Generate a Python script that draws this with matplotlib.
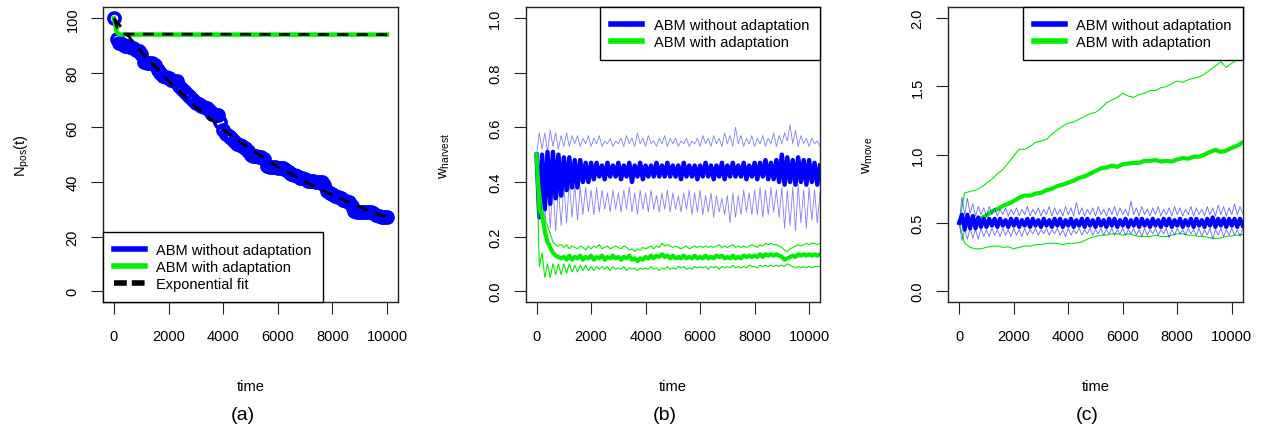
import numpy as np
import matplotlib
matplotlib.use("Agg")
import matplotlib.pyplot as plt
from matplotlib.lines import Line2D

plt.rcParams['font.family'] = ['Liberation Sans', 'DejaVu Sans']
plt.rcParams['mathtext.fontset'] = 'custom'
plt.rcParams['mathtext.rm'] = 'Liberation Sans'
plt.rcParams['mathtext.it'] = 'Liberation Sans:italic'

BLUE = '#0000FF'
GREEN = '#00EE00'

# ---------------- data ----------------
# panel (a): number of positive agents
t_a = np.arange(0, 10001, 100)
npos_no_adapt = [100, 92.5, 91, 90.5, 90, 90, 89.5, 89, 88.5, 88,
                 87, 84, 83.5, 83.5, 83.5, 83, 81, 80, 79, 78.5,
                 78, 77.5, 77, 77, 75, 74, 73, 72, 71, 70,
                 69, 68.5, 68, 67.5, 67, 66, 65, 64.5, 64.5, 62,
                 59, 57.5, 57, 56, 55, 54, 53.5, 53, 52.5, 51.5,
                 50, 49.5, 49.5, 49, 49, 48.5, 46, 45.5, 45.5, 45.5,
                 45, 45, 45, 44.5, 43.5, 43, 42.5, 42, 41.5, 41.5,
                 41, 40.5, 40.5, 40.5, 40, 40, 40, 39, 36.5, 36,
                 35.5, 35, 34.5, 34, 33.5, 33, 32.5, 31, 29.5, 29,
                 29, 29, 29, 29, 29, 28.5, 28, 27.5, 27, 27,
                 27]
t_a_adapt = [0, 100, 200, 10000]
npos_adapt = [100, 95, 94, 94]
t_fit = [0, 1000, 2000, 3000, 4000, 5000, 6000, 7000, 8000, 9000, 10000]
fit_no_adapt = [100, 87.7, 77.0, 67.5, 59.2, 52.0, 45.6, 40.0, 35.1, 30.8, 27.0]
t_fit_adapt = [0, 100, 200, 300, 10000]
fit_adapt = [100, 97, 95, 94.2, 94]

# panel (b): w_harvest (mean and spread bands), sampled every 100 steps
t_b = np.arange(0, 10401, 100)
wh_no_mean = [0.50, 0.27, 0.50, 0.30, 0.51, 0.32, 0.51, 0.34, 0.50, 0.35,
              0.49, 0.37, 0.49, 0.38, 0.48, 0.38, 0.48, 0.40, 0.47, 0.40,
              0.47,
              0.41, 0.47, 0.42, 0.46, 0.41, 0.47, 0.42, 0.46, 0.42, 0.47,
              0.41, 0.46, 0.42, 0.47, 0.40, 0.46, 0.42, 0.47, 0.41, 0.46,
              0.42, 0.46, 0.42, 0.47, 0.42, 0.46, 0.42, 0.47, 0.42, 0.46,
              0.42, 0.46, 0.41, 0.47, 0.42, 0.46, 0.42, 0.46, 0.41, 0.46,
              0.42, 0.47, 0.42, 0.46, 0.41, 0.46, 0.42, 0.47, 0.41, 0.46,
              0.42, 0.47, 0.42, 0.46, 0.42, 0.47, 0.41, 0.46, 0.42, 0.47,
              0.41, 0.47, 0.42, 0.48, 0.41, 0.47, 0.41, 0.48, 0.40,
              0.50, 0.39, 0.49, 0.40, 0.48, 0.39, 0.49, 0.40, 0.48, 0.39,
              0.48, 0.40, 0.47, 0.39, 0.46]
wh_no_hi = [0.50, 0.58, 0.52, 0.58, 0.51, 0.59, 0.53, 0.58, 0.52, 0.57,
            0.53, 0.58, 0.53, 0.57, 0.54, 0.57, 0.53, 0.56, 0.54, 0.57,
            0.53, 0.56, 0.54, 0.57, 0.53, 0.55, 0.54, 0.56, 0.53, 0.55,
            0.54, 0.56, 0.53, 0.57, 0.54, 0.56, 0.53, 0.58, 0.54, 0.56,
            0.53, 0.57, 0.54, 0.55, 0.53, 0.56, 0.54, 0.57, 0.53, 0.56,
            0.54, 0.56, 0.53, 0.55, 0.54, 0.56, 0.53, 0.55, 0.54, 0.56,
            0.53, 0.57, 0.54, 0.56, 0.53, 0.57, 0.54, 0.56, 0.53, 0.58,
            0.54, 0.57, 0.53, 0.60, 0.54, 0.57, 0.53, 0.56, 0.54, 0.57,
            0.53, 0.56, 0.54, 0.57, 0.53, 0.56, 0.54, 0.58, 0.53, 0.57,
            0.54, 0.58, 0.55, 0.61, 0.54, 0.59, 0.53, 0.57, 0.54, 0.56,
            0.53, 0.56, 0.54, 0.55, 0.53]
wh_no_lo = [0.46, 0.30, 0.42, 0.24, 0.40, 0.23, 0.39, 0.22, 0.38, 0.24,
            0.39, 0.25, 0.40, 0.27, 0.39, 0.26, 0.38, 0.28, 0.38, 0.29,
            0.37, 0.28, 0.38, 0.29, 0.37, 0.30, 0.36, 0.29, 0.37, 0.30,
            0.36, 0.29, 0.37, 0.30, 0.38, 0.29, 0.36, 0.28, 0.37, 0.30,
            0.36, 0.29, 0.37, 0.30, 0.35, 0.29, 0.36, 0.30, 0.37, 0.29,
            0.36, 0.30, 0.35, 0.29, 0.36, 0.30, 0.37, 0.28, 0.36, 0.29,
            0.37, 0.28, 0.35, 0.29, 0.36, 0.27, 0.35, 0.29, 0.34, 0.28,
            0.35, 0.25, 0.36, 0.27, 0.35, 0.28, 0.37, 0.29, 0.36, 0.28,
            0.37, 0.28, 0.38, 0.27, 0.37, 0.28, 0.38, 0.29, 0.37, 0.27,
            0.38, 0.23, 0.37, 0.24, 0.38, 0.22, 0.39, 0.25, 0.37, 0.23,
            0.38, 0.26, 0.37, 0.25, 0.36]
wh_ad_mean = [0.50, 0.30, 0.28, 0.22, 0.18, 0.16, 0.14, 0.13, 0.125, 0.12,
              0.125, 0.115, 0.13, 0.115, 0.125, 0.12, 0.13, 0.115, 0.125, 0.12,
              0.13, 0.115, 0.125, 0.12, 0.13, 0.115, 0.125, 0.12, 0.13, 0.12,
              0.125, 0.115, 0.125, 0.12, 0.13, 0.115, 0.12, 0.11, 0.12, 0.115,
              0.125, 0.12, 0.13, 0.12, 0.13, 0.125, 0.135, 0.125, 0.13, 0.12,
              0.13, 0.12, 0.125, 0.12, 0.13, 0.12, 0.125, 0.12, 0.13, 0.12,
              0.125, 0.12, 0.13, 0.12, 0.125, 0.12, 0.13, 0.125, 0.13, 0.12,
              0.125, 0.12, 0.13, 0.12, 0.125, 0.12, 0.13, 0.125, 0.13, 0.125,
              0.13, 0.125, 0.135, 0.125, 0.135, 0.13, 0.135, 0.13, 0.135, 0.13,
              0.125, 0.115, 0.12, 0.125, 0.13, 0.125, 0.135, 0.13, 0.135, 0.13,
              0.135, 0.13, 0.135, 0.13, 0.135]
wh_ad_hi = [0.50, 0.40, 0.31, 0.26, 0.24, 0.21, 0.18, 0.17, 0.165, 0.17,
            0.16, 0.17, 0.155, 0.165, 0.16, 0.155, 0.165, 0.16, 0.15, 0.165,
            0.155, 0.165, 0.16, 0.17, 0.155, 0.16, 0.165, 0.155, 0.16, 0.165,
            0.16, 0.155, 0.165, 0.16, 0.15, 0.155, 0.145, 0.155, 0.15, 0.16,
            0.155, 0.16, 0.165, 0.155, 0.165, 0.16, 0.175, 0.165, 0.17, 0.165,
            0.16, 0.165, 0.16, 0.155, 0.16, 0.165, 0.155, 0.16, 0.165, 0.16,
            0.165, 0.16, 0.165, 0.16, 0.165, 0.16, 0.165, 0.17, 0.16, 0.165,
            0.16, 0.165, 0.17, 0.16, 0.165, 0.16, 0.165, 0.16, 0.165, 0.17,
            0.165, 0.16, 0.17, 0.165, 0.175, 0.17, 0.175, 0.17, 0.17, 0.165,
            0.16, 0.15, 0.145, 0.155, 0.16, 0.165, 0.17, 0.165, 0.17, 0.175,
            0.17, 0.175, 0.175, 0.17, 0.175]
wh_ad_lo = [0.50, 0.09, 0.14, 0.05, 0.10, 0.05, 0.10, 0.06, 0.10, 0.06,
            0.10, 0.065, 0.10, 0.07, 0.095, 0.07, 0.095, 0.075, 0.095, 0.075,
            0.09, 0.075, 0.09, 0.08, 0.09, 0.08, 0.09, 0.075, 0.09, 0.08,
            0.085, 0.08, 0.09, 0.075, 0.085, 0.08, 0.085, 0.075, 0.085, 0.08,
            0.085, 0.08, 0.09, 0.08, 0.085, 0.075, 0.085, 0.08, 0.09, 0.08,
            0.085, 0.08, 0.09, 0.085, 0.09, 0.08, 0.085, 0.08, 0.09, 0.085,
            0.09, 0.085, 0.09, 0.08, 0.09, 0.085, 0.09, 0.08, 0.09, 0.085,
            0.09, 0.085, 0.095, 0.085, 0.09, 0.085, 0.09, 0.085, 0.095, 0.09,
            0.09, 0.085, 0.095, 0.09, 0.095, 0.09, 0.095, 0.09, 0.095, 0.09,
            0.095, 0.09, 0.10, 0.095, 0.09, 0.085, 0.09, 0.085, 0.09, 0.085,
            0.09, 0.085, 0.09, 0.09, 0.09]

# panel (c): w_move
t_c = np.arange(0, 10401, 100)
wm_no_mean = [0.50, 0.56, 0.45, 0.56, 0.46, 0.55, 0.46, 0.54, 0.47, 0.53,
              0.47, 0.53, 0.48, 0.53, 0.47, 0.53, 0.48, 0.52, 0.47, 0.53,
              0.48, 0.53, 0.47, 0.52, 0.48, 0.53, 0.47, 0.53, 0.48, 0.52,
              0.47, 0.53, 0.48, 0.52, 0.47, 0.53, 0.48, 0.53, 0.47, 0.52,
              0.48, 0.53, 0.47, 0.52, 0.48, 0.53, 0.47, 0.53, 0.48, 0.52,
              0.47, 0.53, 0.48, 0.52, 0.47, 0.53, 0.48, 0.53, 0.47, 0.52,
              0.48, 0.53, 0.47, 0.52, 0.48, 0.53, 0.47, 0.53, 0.48, 0.52,
              0.47, 0.53, 0.48, 0.52, 0.47, 0.53, 0.48, 0.53, 0.47, 0.52,
              0.48, 0.53, 0.47, 0.52, 0.48, 0.53, 0.47, 0.53, 0.48, 0.52,
              0.47, 0.53, 0.48, 0.54, 0.47, 0.53, 0.48, 0.53, 0.47, 0.53,
              0.48, 0.53, 0.47, 0.53, 0.48]
wm_no_hi = [0.50, 0.69, 0.56, 0.68, 0.57, 0.64, 0.55, 0.62, 0.56, 0.61,
            0.55, 0.62, 0.56, 0.61, 0.55, 0.60, 0.56, 0.61, 0.55, 0.60,
            0.56, 0.61, 0.55, 0.60, 0.56, 0.62, 0.55, 0.60, 0.56, 0.61,
            0.55, 0.60, 0.56, 0.62, 0.55, 0.61, 0.56, 0.60, 0.55, 0.62,
            0.56, 0.61, 0.55, 0.65, 0.56, 0.61, 0.55, 0.60, 0.56, 0.61,
            0.55, 0.62, 0.56, 0.60, 0.55, 0.61, 0.56, 0.62, 0.55, 0.61,
            0.56, 0.60, 0.55, 0.66, 0.56, 0.61, 0.55, 0.62, 0.56, 0.60,
            0.55, 0.61, 0.56, 0.62, 0.55, 0.60, 0.56, 0.61, 0.55, 0.62,
            0.56, 0.61, 0.55, 0.60, 0.56, 0.62, 0.55, 0.61, 0.56, 0.60,
            0.55, 0.62, 0.56, 0.61, 0.55, 0.63, 0.56, 0.62, 0.55, 0.61,
            0.56, 0.64, 0.56, 0.62, 0.57]
wm_no_lo = [0.50, 0.37, 0.45, 0.38, 0.46, 0.39, 0.45, 0.38, 0.46, 0.40,
            0.45, 0.40, 0.46, 0.41, 0.45, 0.40, 0.46, 0.41, 0.45, 0.40,
            0.46, 0.41, 0.45, 0.40, 0.46, 0.41, 0.45, 0.42, 0.46, 0.41,
            0.45, 0.42, 0.46, 0.41, 0.45, 0.42, 0.46, 0.41, 0.45, 0.40,
            0.46, 0.41, 0.45, 0.42, 0.46, 0.41, 0.45, 0.42, 0.46, 0.41,
            0.45, 0.42, 0.46, 0.41, 0.45, 0.42, 0.46, 0.41, 0.45, 0.42,
            0.46, 0.41, 0.45, 0.42, 0.46, 0.41, 0.45, 0.40, 0.46, 0.41,
            0.45, 0.42, 0.46, 0.41, 0.45, 0.42, 0.46, 0.39, 0.45, 0.41,
            0.46, 0.42, 0.45, 0.41, 0.46, 0.42, 0.45, 0.41, 0.46, 0.40,
            0.45, 0.41, 0.46, 0.38, 0.45, 0.41, 0.46, 0.40, 0.45, 0.41,
            0.46, 0.41, 0.45, 0.40, 0.46]
t_c2 = np.arange(0, 10401, 200)
wm_ad_mean = [0.50, 0.50, 0.51, 0.52, 0.53, 0.555, 0.585, 0.60, 0.625, 0.64,
              0.66, 0.685, 0.70, 0.70, 0.715, 0.72, 0.74, 0.75, 0.77, 0.78,
              0.795, 0.81, 0.83, 0.84, 0.86, 0.88, 0.90, 0.905, 0.92, 0.91,
              0.93, 0.935, 0.94, 0.94, 0.955, 0.955, 0.96, 0.95, 0.955, 0.95,
              0.965, 0.975, 0.97, 0.985, 0.985, 1.00, 1.02, 1.035, 1.02, 1.03,
              1.05, 1.065, 1.09]
wm_ad_hi = [0.50, 0.72, 0.73, 0.74, 0.76, 0.79, 0.82, 0.86, 0.89, 0.94,
            0.99, 1.04, 1.04, 1.06, 1.09, 1.10, 1.11, 1.15, 1.18, 1.21,
            1.23, 1.24, 1.26, 1.28, 1.30, 1.31, 1.34, 1.38, 1.40, 1.42,
            1.45, 1.43, 1.42, 1.44, 1.45, 1.47, 1.47, 1.49, 1.50, 1.52,
            1.54, 1.53, 1.55, 1.56, 1.57, 1.59, 1.62, 1.65, 1.68, 1.64,
            1.67, 1.70, 1.73]
wm_ad_lo = [0.50, 0.35, 0.32, 0.31, 0.31, 0.32, 0.33, 0.33, 0.32, 0.325,
            0.31, 0.32, 0.33, 0.33, 0.34, 0.34, 0.35, 0.35, 0.35, 0.34,
            0.35, 0.35, 0.355, 0.37, 0.39, 0.40, 0.41, 0.41, 0.42, 0.42,
            0.41, 0.42, 0.41, 0.40, 0.40, 0.40, 0.41, 0.40, 0.40, 0.41,
            0.42, 0.42, 0.41, 0.41, 0.40, 0.40, 0.39, 0.385, 0.39, 0.40,
            0.405, 0.41, 0.415]

x_ticks = [0, 2000, 4000, 6000, 8000, 10000]
ya_ticks = [0, 20, 40, 60, 80, 100]
yb_ticks = [0.0, 0.2, 0.4, 0.6, 0.8, 1.0]
yc_ticks = [0.0, 0.5, 1.0, 1.5, 2.0]
lab_no = 'ABM without adaptation'
lab_ad = 'ABM with adaptation'

# ---------------- figure ----------------
W, H = 1269, 427
fig = plt.figure(figsize=(W / 100, H / 100), dpi=100)
FS = 10.5

def make_ax(left_px, right_px):
    top_px, bot_px = 8.3, 303
    return fig.add_axes([left_px / W, 1 - bot_px / H, (right_px - left_px) / W,
                         (bot_px - top_px) / H])

def style(ax, ylim, yticks, ylabel, ylabfmt):
    ax.set_xlim(-400, 10400)
    ax.set_ylim(*ylim)
    ax.set_xticks(x_ticks)
    ax.set_xticklabels([str(v) for v in x_ticks])
    ax.set_yticks(yticks)
    ax.set_yticklabels([ylabfmt.format(v) for v in yticks])
    ax.tick_params(axis='both', length=8.5, width=0.8, labelsize=FS, color='#222222')
    ax.tick_params(axis='x', pad=11)
    ax.tick_params(axis='y', pad=8.5)
    plt.setp(ax.get_yticklabels(), rotation=90, va='center')
    for s in ax.spines.values():
        s.set_linewidth(1.0)
        s.set_color('#222222')
    ax.set_xlabel('time', fontsize=FS, va='center')
    ax.xaxis.set_label_coords(0.5, -84 / 294.7)
    ax.set_ylabel(ylabel, fontsize=FS, va='center')
    ax.yaxis.set_label_coords(-81 / 295, 0.5)

def legend(ax, handles, labels, loc):
    leg = ax.legend(handles, labels, loc=loc, borderaxespad=0, fontsize=FS,
                    fancybox=False, edgecolor='black', framealpha=1,
                    handlelength=2.1, handletextpad=0.8, borderpad=0.75,
                    labelspacing=0.2)
    leg.get_frame().set_linewidth(1.0)
    return leg

# (a)
ax1 = make_ax(103, 398)
ax1.plot(t_a, npos_no_adapt, linestyle='none', marker='o', ms=8, mfc='none',
         mec=BLUE, mew=2.6, zorder=2)
ax1.plot(t_a_adapt, npos_adapt, color=GREEN, lw=3.2, zorder=3)
ax1.plot(t_fit, fit_no_adapt, color='black', lw=2.0, linestyle=(0, (4, 3)), zorder=4)
ax1.plot(t_fit_adapt, fit_adapt, color='black', lw=2.0, linestyle=(0, (4, 3)), zorder=4)
style(ax1, (-4, 104), ya_ticks, r'$\mathregular{N_{pos}(t)}$', '{:d}')
legend(ax1,
       [Line2D([], [], color=BLUE, lw=4), Line2D([], [], color=GREEN, lw=4),
        Line2D([], [], color='black', lw=4, linestyle=(0, (2.3, 0.9)))],
       [lab_no, lab_ad, 'Exponential fit'], 'lower left')

# (b)
ax2 = make_ax(525.7, 820)
ax2.plot(t_b, wh_no_hi, color=BLUE, lw=0.6, alpha=0.5)
ax2.plot(t_b, wh_no_lo, color=BLUE, lw=0.6, alpha=0.5)
ax2.plot(t_b, wh_no_mean, color=BLUE, lw=3.2)
ax2.plot(t_b, wh_ad_hi, color=GREEN, lw=0.8)
ax2.plot(t_b, wh_ad_lo, color=GREEN, lw=0.8)
ax2.plot(t_b, wh_ad_mean, color=GREEN, lw=3.0)
style(ax2, (-0.04, 1.04), yb_ticks, r'$\mathregular{w_{harvest}}$', '{:.1f}')
legend(ax2, [Line2D([], [], color=BLUE, lw=4), Line2D([], [], color=GREEN, lw=4)],
       [lab_no, lab_ad], 'upper right')

# (c)
ax3 = make_ax(948.3, 1242.7)
ax3.plot(t_c2, wm_ad_hi, color=GREEN, lw=0.8)
ax3.plot(t_c2, wm_ad_lo, color=GREEN, lw=0.8)
ax3.plot(t_c2, wm_ad_mean, color=GREEN, lw=3.0)
ax3.plot(t_c, wm_no_hi, color=BLUE, lw=0.6, alpha=0.6)
ax3.plot(t_c, wm_no_lo, color=BLUE, lw=0.6, alpha=0.6)
ax3.plot(t_c, wm_no_mean, color=BLUE, lw=3.0)
style(ax3, (-0.08, 2.08), yc_ticks, r'$\mathregular{w_{move}}$', '{:.1f}')
legend(ax3, [Line2D([], [], color=BLUE, lw=4), Line2D([], [], color=GREEN, lw=4)],
       [lab_no, lab_ad], 'upper right')

for xc, txt in [(242.5, '(a)'), (665, '(b)'), (1087.5, '(c)')]:
    fig.text(xc / W, 1 - 415.5 / H, txt, fontsize=14, ha='center', va='center')

fig.savefig('out.png', dpi=100)
